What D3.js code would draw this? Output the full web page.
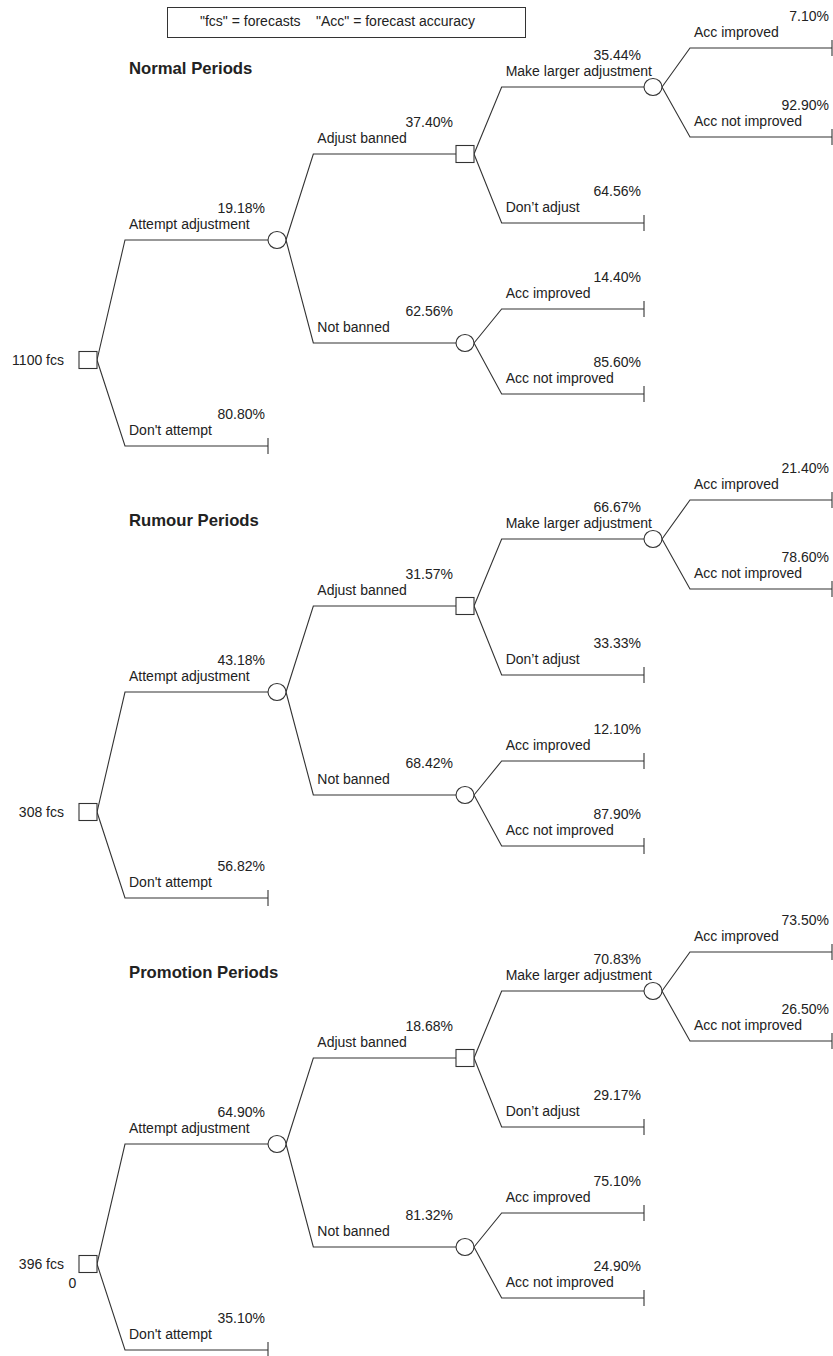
<!DOCTYPE html>
<html>
<head>
<meta charset="utf-8">
<script src="https://cdn.jsdelivr.net/npm/d3@7"></script>
<style>
  html, body { margin: 0; padding: 0; background: #fff; }
  svg { display: block; }
  text { font-family: "Liberation Sans", Arial, sans-serif; fill: #222; }
</style>
</head>
<body>
<svg id="chart" width="833" height="1356"></svg>
<script>
// ---- data ----
const periods = ["Normal Periods", "Rumour Periods", "Promotion Periods"];
const rootCounts = [1100, 308, 396];
const attempt = [19.18, 43.18, 64.90];
const dontAttempt = [80.80, 56.82, 35.10];
const adjustBanned = [37.40, 31.57, 18.68];
const notBanned = [62.56, 68.42, 81.32];
const makeLarger = [35.44, 66.67, 70.83];
const dontAdjust = [64.56, 33.33, 29.17];
const largerAccImproved = [7.10, 21.40, 73.50];
const largerAccNotImproved = [92.90, 78.60, 26.50];
const notBannedAccImproved = [14.40, 12.10, 75.10];
const notBannedAccNotImproved = [85.60, 87.90, 24.90];
const branchLabels = ["Attempt adjustment", "Don't attempt", "Adjust banned", "Not banned",
  "Make larger adjustment", "Don\u2019t adjust", "Acc improved", "Acc not improved"];
const legendTexts = ["\"fcs\" = forecasts", "\"Acc\" = forecast accuracy"];

// ---- layout ----
const svg = d3.select("#chart");
const xStart = d3.scaleLinear().domain([1, 4]).range([125, 690]);
const xEnd = d3.scaleLinear().domain([1, 4]).range([268, 832]);
const yRoot = d3.scaleLinear().domain([0, 2]).range([360, 1264]);
const fmt = v => d3.format(".2f")(v) + "%";
const NODE_W = 18, NODE_H = 17;
const stroke = "#333";

function buildTree(i) {
  return {
    shape: "square", dy: 0, children: [
      { label: branchLabels[0], pct: attempt[i], dy: -120, shape: "circle", children: [
        { label: branchLabels[2], pct: adjustBanned[i], dy: -206, shape: "square", children: [
          { label: branchLabels[4], pct: makeLarger[i], dy: -273, shape: "circle", children: [
            { label: branchLabels[6], pct: largerAccImproved[i], dy: -312 },
            { label: branchLabels[7], pct: largerAccNotImproved[i], dy: -223 }
          ]},
          { label: branchLabels[5], pct: dontAdjust[i], dy: -137 }
        ]},
        { label: branchLabels[3], pct: notBanned[i], dy: -17, shape: "circle", children: [
          { label: branchLabels[6], pct: notBannedAccImproved[i], dy: -51 },
          { label: branchLabels[7], pct: notBannedAccNotImproved[i], dy: 34 }
        ]}
      ]},
      { label: branchLabels[1], pct: dontAttempt[i], dy: 86 }
    ]
  };
}

// legend
svg.append("rect").attr("x", 167.5).attr("y", 7.5).attr("width", 358).attr("height", 30)
  .attr("fill", "#fff").attr("stroke", stroke).attr("stroke-width", 1);
svg.append("text").attr("x", 200).attr("y", 26).attr("font-size", 14).text(legendTexts[0]);
svg.append("text").attr("x", 316).attr("y", 26).attr("font-size", 14).text(legendTexts[1]);

periods.forEach((title, i) => {
  const y0 = yRoot(i);
  const g = svg.append("g");
  const lines = g.append("g");
  const nodes = g.append("g");
  const labels = g.append("g");

  labels.append("text").attr("x", 129).attr("y", y0 - 286)
    .attr("font-size", 16.7).attr("font-weight", "bold").text(title);

  labels.append("text").attr("x", 64).attr("y", y0 + 5).attr("text-anchor", "end")
    .attr("font-size", 14).text(rootCounts[i] + " fcs");
  if (i === 2) {
    labels.append("text").attr("x", 72.5).attr("y", y0 + 24).attr("text-anchor", "middle")
      .attr("font-size", 14).text("0");
  }

  const root = d3.hierarchy(buildTree(i));
  root.each(n => {
    n.yy = y0 + n.data.dy;
    if (n.depth === 0) { n.left = 79; }
    else { n.x0 = xStart(n.depth); n.left = xEnd(n.depth); }
    n.right = n.left + NODE_W;
  });

  root.descendants().forEach(n => {
    if (n.depth > 0) {
      const p = n.parent;
      lines.append("path")
        .attr("d", d3.line()([[p.right, p.yy], [n.x0, n.yy], [n.left, n.yy]]))
        .attr("fill", "none").attr("stroke", stroke).attr("stroke-width", 1.1);
      labels.append("text").attr("x", n.x0 + 4).attr("y", n.yy - 11)
        .attr("font-size", 14).text(n.data.label);
      labels.append("text").attr("x", n.left - 3).attr("y", n.yy - 27.5)
        .attr("text-anchor", "end").attr("font-size", 14).text(fmt(n.data.pct));
    }
    if (n.data.shape === "square") {
      nodes.append("rect").attr("x", n.left).attr("y", n.yy - NODE_H / 2)
        .attr("width", NODE_W).attr("height", NODE_H)
        .attr("fill", "#fff").attr("stroke", stroke).attr("stroke-width", 1.1);
    } else if (n.data.shape === "circle") {
      nodes.append("ellipse").attr("cx", n.left + NODE_W / 2).attr("cy", n.yy)
        .attr("rx", NODE_W / 2).attr("ry", 8.5)
        .attr("fill", "#fff").attr("stroke", stroke).attr("stroke-width", 1.1);
    } else {
      lines.append("line").attr("x1", n.left).attr("x2", n.left)
        .attr("y1", n.yy - 8).attr("y2", n.yy + 8)
        .attr("stroke", stroke).attr("stroke-width", 1.1);
    }
  });
});
</script>
</body>
</html>
